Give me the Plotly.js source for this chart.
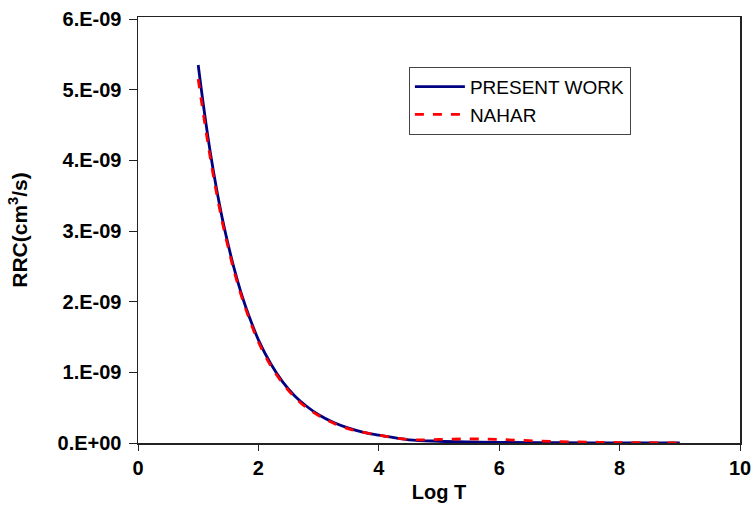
<!DOCTYPE html>
<html><head><meta charset="utf-8">
<script src="https://cdn.plot.ly/plotly-3.0.1.min.js"></script>
<style>body{margin:0;background:#fff}#chart{width:754px;height:525px}</style>
</head><body><div id="chart"></div>
<script>
const presentX = [1.0,1.1,1.2,1.3,1.4,1.5,1.6,1.7,1.8,1.9,2.0,2.2,2.4,2.6,2.8,3.0,3.25,3.5,3.75,4.0,4.5,5.0,5.5,6.0,7.0,8.0,9.0];
const presentY = [5.35e-9,4.70e-9,4.12e-9,3.62e-9,3.18e-9,2.80e-9,2.46e-9,2.16e-9,1.90e-9,1.67e-9,1.46e-9,1.13e-9,0.87e-9,0.67e-9,0.52e-9,0.40e-9,0.29e-9,0.21e-9,0.15e-9,0.11e-9,0.045e-9,0.025e-9,0.015e-9,0.009e-9,0.004e-9,0.002e-9,0.001e-9];
const naharX = [1.0,1.1,1.2,1.3,1.4,1.5,1.6,1.7,1.8,1.9,2.0,2.2,2.4,2.6,2.8,3.0,3.25,3.5,3.75,4.0,4.5,5.0,5.5,6.0,6.5,7.0,7.5,8.0,8.95];
const naharY = [5.15e-9,4.58e-9,4.04e-9,3.56e-9,3.13e-9,2.76e-9,2.42e-9,2.13e-9,1.87e-9,1.64e-9,1.43e-9,1.10e-9,0.85e-9,0.65e-9,0.50e-9,0.39e-9,0.28e-9,0.20e-9,0.15e-9,0.11e-9,0.048e-9,0.05e-9,0.058e-9,0.05e-9,0.033e-9,0.02e-9,0.012e-9,0.006e-9,0.002e-9];
const yTickVals = [0,1e-9,2e-9,3e-9,4e-9,5e-9,6e-9];
const yTickText = ["0.E+00","1.E-09","2.E-09","3.E-09","4.E-09","5.E-09","6.E-09"];
const xTickVals = [0,2,4,6,8,10];

const FONT = "Arial, Liberation Sans, sans-serif";
const traces = [
  {x: presentX, y: presentY, name: "PRESENT WORK", mode: "lines", line: {color: "#000080", width: 2.8, shape: "spline"}},
  {x: naharX, y: naharY, name: "NAHAR", mode: "lines", line: {color: "#FF0000", width: 2.8, dash: "dash", shape: "spline"}}
];
const axisFont = {family: FONT, size: 20, color: "#000"};
const layout = {
  width: 754, height: 525,
  margin: {l: 138, r: 14, t: 17, b: 82},
  paper_bgcolor: "#fff", plot_bgcolor: "#fff",
  showlegend: true,
  legend: {x: 0.45, y: 0.883, xanchor: "left", yanchor: "top", bgcolor: "#fff", bordercolor: "#444", borderwidth: 1,
    font: {family: FONT, size: 19, color: "#000"}, itemwidth: 50},
  xaxis: {range: [0, 10], tickvals: xTickVals, ticktext: xTickVals.map(v => "<b>" + v + "</b>"),
    showgrid: false, zeroline: false, showline: true, mirror: true,
    linecolor: "#222", linewidth: 1.5, ticks: "outside", ticklen: 6, tickcolor: "#222", tickfont: axisFont,
    title: {text: "<b>Log T</b>", font: {family: FONT, size: 20, color: "#000"}, standoff: 7}},
  yaxis: {range: [0, 6.03e-9], tickvals: yTickVals, ticktext: yTickText.map(t => "<b>" + t + "</b>"),
    showgrid: false, zeroline: false, showline: true, mirror: true,
    linecolor: "#222", linewidth: 1.5, ticks: "outside", ticklen: 8, tickcolor: "#222", tickfont: axisFont,
    ticklabelstandoff: 3,
    title: {text: "<b>RRC(cm<sup>3</sup>/s)</b>", font: {family: FONT, size: 21, color: "#000"}, standoff: 24}}
};
Plotly.newPlot("chart", traces, layout, {displayModeBar: false, staticPlot: true});
</script></body></html>
